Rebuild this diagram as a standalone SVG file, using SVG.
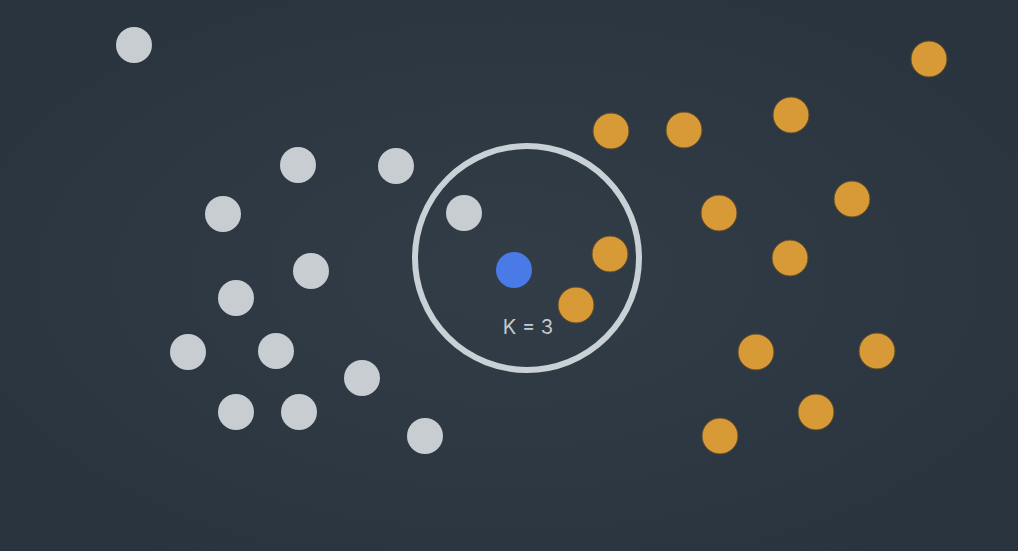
<svg xmlns="http://www.w3.org/2000/svg" width="1018" height="551" viewBox="0 0 1018 551">
<defs>
<radialGradient id="bg" cx="50%" cy="50%" r="60%">
<stop offset="0" stop-color="#323d48"/>
<stop offset="1" stop-color="#2a343f"/>
</radialGradient>
<style>
.g{fill:#c8cdd1}
.o{fill:#d89a37;stroke:#5a4a2a;stroke-width:1}
.b{fill:#4a7ae8}
.ring{fill:none;stroke:#c9d0d6;stroke-width:6}
.lbl{font-family:"Inter","Liberation Sans",sans-serif;font-size:20px;fill:#c3cad1;text-anchor:middle}
</style>
</defs>
<rect width="1018" height="551" fill="url(#bg)"/>
<g id="neighborhood">
<circle class="ring" cx="527" cy="258" r="112"/>
</g>
<g id="gray-points">
<circle class="g" cx="134" cy="45" r="18"/>
<circle class="g" cx="298" cy="165" r="18"/>
<circle class="g" cx="396" cy="166" r="18"/>
<circle class="g" cx="223" cy="214" r="18"/>
<circle class="g" cx="464" cy="213" r="18"/>
<circle class="g" cx="311" cy="271" r="18"/>
<circle class="g" cx="236" cy="298" r="18"/>
<circle class="g" cx="188" cy="352" r="18"/>
<circle class="g" cx="276" cy="351" r="18"/>
<circle class="g" cx="362" cy="378" r="18"/>
<circle class="g" cx="236" cy="412" r="18"/>
<circle class="g" cx="299" cy="412" r="18"/>
<circle class="g" cx="425" cy="436" r="18"/>
</g>
<g id="orange-points">
<circle class="o" cx="929" cy="59" r="18"/>
<circle class="o" cx="611" cy="131" r="18"/>
<circle class="o" cx="684" cy="130" r="18"/>
<circle class="o" cx="791" cy="115" r="18"/>
<circle class="o" cx="719" cy="213" r="18"/>
<circle class="o" cx="852" cy="199" r="18"/>
<circle class="o" cx="610" cy="254" r="18"/>
<circle class="o" cx="790" cy="258" r="18"/>
<circle class="o" cx="576" cy="305" r="18"/>
<circle class="o" cx="756" cy="352" r="18"/>
<circle class="o" cx="877" cy="351" r="18"/>
<circle class="o" cx="816" cy="412" r="18"/>
<circle class="o" cx="720" cy="436" r="18"/>
</g>
<g id="query-point">
<circle class="b" cx="514" cy="270" r="18"/>
</g>
<g id="label">
<text class="lbl" x="528" y="334">K = 3</text>
</g>
</svg>
